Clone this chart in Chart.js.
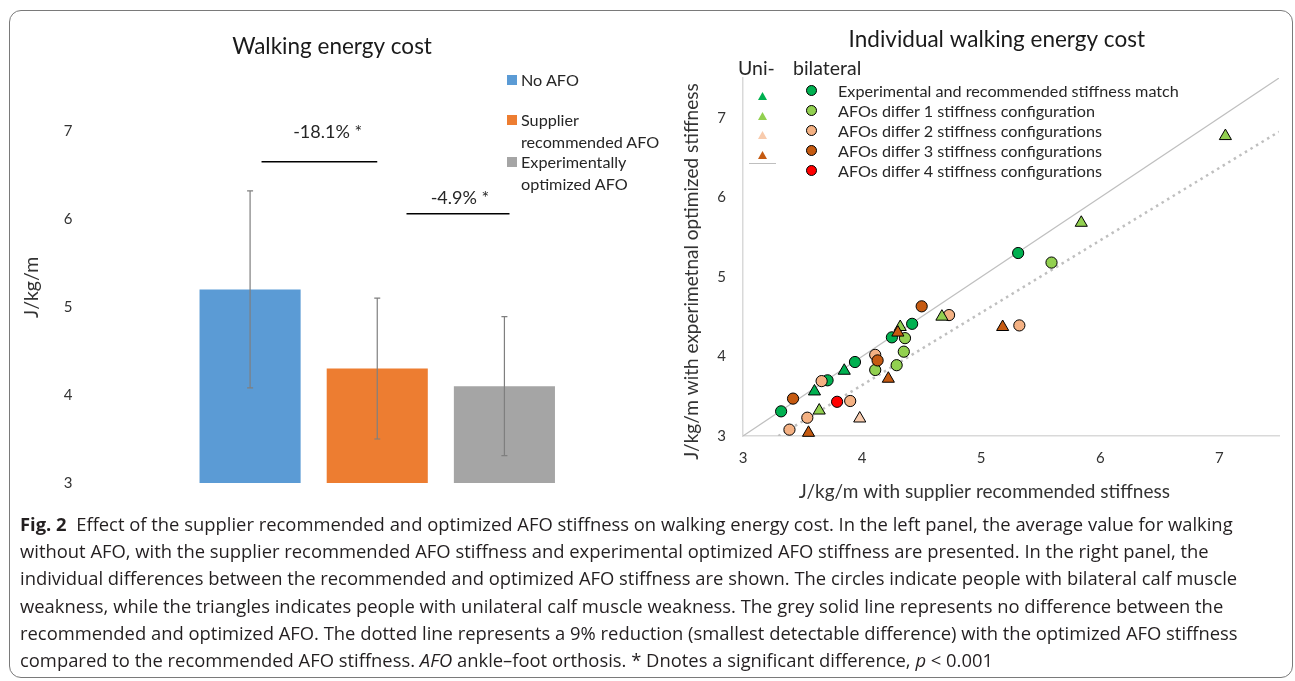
<!DOCTYPE html>
<html>
<head>
<meta charset="utf-8">
<script src="https://cdn.jsdelivr.net/npm/chart.js@4.4.1/dist/chart.umd.min.js"></script>
<style>
  body { margin: 0; width: 1295px; height: 681px; background: #fff; position: relative; overflow: hidden; font-family: Lato, sans-serif; }
  #frame { position: absolute; left: 9px; top: 10px; width: 1284px; height: 668px; border: 1px solid #7a7a7a; border-radius: 12px; box-sizing: border-box; }
  #left-wrap { position: absolute; left: 10px; top: 20px; width: 660px; height: 480px; }
  #right-wrap { position: absolute; left: 680px; top: 20px; width: 610px; height: 500px; }
  .lg { position: absolute; color: #262626; font-size: 16.2px; line-height: 22px; white-space: nowrap; }
  .sq { position: absolute; width: 10px; height: 10px; }
  .tri { position: absolute; width: 9px; height: 8px; clip-path: polygon(50% 0, 100% 100%, 0 100%); }
  .dot { position: absolute; width: 11px; height: 11px; border: 1px solid #000; border-radius: 50%; box-sizing: border-box; }
  #caption { position: absolute; left: 20px; top: 510px; width: 1268px; font-family: 'Open Sans', sans-serif; font-size: 18.4px; line-height: 27.2px; color: #231f20; }
  #caption div { white-space: nowrap; }
</style>
</head>
<body>
<div id="frame"></div>
<div id="left-wrap"><canvas id="left"></canvas></div>
<div id="right-wrap"><canvas id="right"></canvas></div>
<div id="left-legend"></div>
<div id="right-legend"></div>
<div id="caption">
  <div><b>Fig. 2</b>&nbsp; Effect of the supplier recommended and optimized AFO stiffness on walking energy cost. In the left panel, the average value for walking</div>
  <div>without AFO, with the supplier recommended AFO stiffness and experimental optimized AFO stiffness are presented. In the right panel, the</div>
  <div>individual differences between the recommended and optimized AFO stiffness are shown. The circles indicate people with bilateral calf muscle</div>
  <div>weakness, while the triangles indicates people with unilateral calf muscle weakness. The grey solid line represents no difference between the</div>
  <div>recommended and optimized AFO. The dotted line represents a 9% reduction (smallest detectable difference) with the optimized AFO stiffness</div>
  <div>compared to the recommended AFO stiffness. <i>AFO</i> ankle–foot orthosis. * Dnotes a significant difference, <i>p</i> &lt; 0.001</div>
</div>
<script>
// left panel: mean walking energy cost
const barLabels = ['No AFO', 'Supplier recommended AFO', 'Experimentally optimized AFO']
const barLegendLines = [['No AFO'], ['Supplier', 'recommended AFO'], ['Experimentally', 'optimized AFO']]
const barMeans = [5.2, 4.3, 4.1]
const barSD = [1.12, 0.8, 0.79]
const barColors = ['#5B9BD5', '#ED7D31', '#A5A5A5']
const leftTicks = [3, 4, 5, 6, 7]
const sigLabels = ['-18.1% *', '-4.9% *']

// right panel: individual values (x = recommended, y = optimized)
const rightTicks = [3, 4, 5, 6, 7]
const reduction = 0.09
const biMatch = [
  { x: 3.32, y: 3.31 }, { x: 3.71, y: 3.70 }, { x: 3.94, y: 3.93 },
  { x: 4.25, y: 4.24 }, { x: 4.42, y: 4.41 }, { x: 5.31, y: 5.30 },
]
const bi1 = [
  { x: 5.59, y: 5.18 }, { x: 4.36, y: 4.23 }, { x: 4.35, y: 4.06 },
  { x: 4.11, y: 3.83 }, { x: 4.29, y: 3.89 },
]
const bi2 = [
  { x: 4.73, y: 4.52 }, { x: 5.32, y: 4.39 }, { x: 4.11, y: 4.02 },
  { x: 3.66, y: 3.69 }, { x: 3.90, y: 3.44 }, { x: 3.54, y: 3.23 },
  { x: 3.39, y: 3.08 },
]
const bi3 = [{ x: 4.50, y: 4.63 }, { x: 4.13, y: 3.95 }, { x: 3.42, y: 3.47 }]
const bi4 = [{ x: 3.79, y: 3.43 }]
const uniMatch = [{ x: 3.85, y: 3.82 }, { x: 3.60, y: 3.56 }]
const uni1 = [
  { x: 7.05, y: 6.77 }, { x: 5.84, y: 5.68 }, { x: 4.67, y: 4.50 },
  { x: 4.32, y: 4.37 }, { x: 3.64, y: 3.32 },
]
const uni2 = [{ x: 3.98, y: 3.22 }]
const uni3 = [{ x: 4.30, y: 4.30 }, { x: 4.22, y: 3.72 }, { x: 5.18, y: 4.37 }, { x: 3.55, y: 3.04 }]

const groupLabels = [
  'Experimental and recommended stiffness match',
  'AFOs differ 1 stiffness configuration',
  'AFOs differ 2 stiffness configurations',
  'AFOs differ 3 stiffness configurations',
  'AFOs differ 4 stiffness configurations',
]
const groupColors = ['#00B050', '#92D050', '#F4B183', '#C55A11', '#FF0000']
const uniColors = ['#00B050', '#92D050', '#F8CBAD', '#C55A11']

const textColor = '#333333'
const axisColor = '#D9D9D9'
// non-breaking spaces nudge centred titles the way the original layout does
const nb = (n) => '\u00a0'.repeat(n)

// error bars + significance brackets for the bar chart
const barExtras = {
  id: 'barExtras',
  afterDatasetsDraw(chart, args, opts) {
    const { ctx, scales: { x, y } } = chart
    ctx.save()
    ctx.strokeStyle = '#7F7F7F'
    ctx.lineWidth = 1.2
    barMeans.forEach((m, i) => {
      const px = x.getPixelForValue(i)
      const top = y.getPixelForValue(m + barSD[i])
      const bot = y.getPixelForValue(m - barSD[i])
      ctx.beginPath()
      ctx.moveTo(px, top); ctx.lineTo(px, bot)
      ctx.moveTo(px - 3, top); ctx.lineTo(px + 3, top)
      ctx.moveTo(px - 3, bot); ctx.lineTo(px + 3, bot)
      ctx.stroke()
    })
    const step = x.getPixelForValue(1) - x.getPixelForValue(0)
    const p0 = x.getPixelForValue(0)
    ctx.strokeStyle = '#000'
    ctx.lineWidth = 1.5
    ctx.fillStyle = '#262626'
    ctx.font = '18px Lato, sans-serif'
    ctx.textAlign = 'center'
    ctx.textBaseline = 'middle'
    opts.brackets.forEach((b, i) => {
      const yy = y.getPixelForValue(b.y)
      ctx.beginPath()
      ctx.moveTo(p0 + b.from * step, yy)
      ctx.lineTo(p0 + b.to * step, yy)
      ctx.stroke()
      ctx.fillText(sigLabels[i], p0 + b.textX * step, y.getPixelForValue(b.textY))
    })
    ctx.restore()
  },
}

new Chart(document.getElementById('left'), {
  type: 'bar',
  data: {
    labels: barLabels,
    datasets: [{
      data: barMeans,
      backgroundColor: barColors,
      barPercentage: 0.795,
      categoryPercentage: 1,
    }],
  },
  options: {
    responsive: true,
    maintainAspectRatio: false,
    animation: false,
    layout: { padding: { top: 0, right: 102, bottom: 17, left: 0 } },
    scales: {
      x: { display: false },
      y: {
        min: 3,
        max: 7,
        afterFit: (scale) => {
          scale.width = 176.5
          scale.paddingTop = 0
          scale.paddingBottom = 0
        },
        afterBuildTicks: (scale) => { scale.ticks = leftTicks.map((v) => ({ value: v })) },
        grid: { display: false },
        border: { display: false },
        ticks: { color: textColor, padding: 106, font: { family: 'Lato', size: 15 } },
        title: {
          display: true,
          text: nb(8) + 'J/kg/m',
          color: textColor,
          padding: { top: 10, bottom: 0 },
          font: { family: 'Lato', size: 19.5 },
        },
      },
    },
    plugins: {
      legend: { display: false },
      tooltip: { enabled: false },
      title: {
        display: true,
        text: nb(15) + 'Walking energy cost',
        color: '#1a1a1a',
        padding: { top: 13.5, bottom: 70.5 },
        font: { family: 'Lato', size: 22.5, weight: 'normal' },
      },
      barExtras: {
        brackets: [
          { from: 0.09, to: 1.0, y: 6.65, textX: 0.61, textY: 6.99 },
          { from: 1.23, to: 2.04, y: 6.06, textX: 1.65, textY: 6.24 },
        ],
      },
    },
  },
  plugins: [barExtras],
})

// legend for the bar chart
const leftLegend = document.getElementById('left-legend')
const legendRows = [80, 120, 162]
barLegendLines.forEach((lines, i) => {
  const sq = document.createElement('span')
  sq.className = 'sq'
  sq.style.background = barColors[i]
  sq.style.left = '507px'
  sq.style.top = (legendRows[i] - 5) + 'px'
  leftLegend.appendChild(sq)
  const t = document.createElement('div')
  t.className = 'lg'
  t.style.left = '521px'
  t.style.top = (legendRows[i] - 11) + 'px'
  t.innerHTML = lines.join('<br>')
  leftLegend.appendChild(t)
})

function scatterSet(data, color, style, order) {
  return {
    type: 'scatter',
    data,
    backgroundColor: color,
    borderColor: '#000',
    borderWidth: 1,
    pointStyle: style,
    pointRadius: style === 'triangle' ? 7 : 5.6,
    clip: false,
    order,
  }
}

const xMin = 3
const xMax = 7.5
const refLine = [{ x: xMin, y: xMin }, { x: xMax, y: xMax }]
const sddLine = [{ x: xMin / (1 - reduction), y: xMin }, { x: xMax, y: xMax * (1 - reduction) }]

new Chart(document.getElementById('right'), {
  type: 'scatter',
  data: {
    datasets: [
      scatterSet(uni3, uniColors[3], 'triangle', 1),
      scatterSet(uni2, uniColors[2], 'triangle', 2),
      scatterSet(uni1, uniColors[1], 'triangle', 3),
      scatterSet(uniMatch, uniColors[0], 'triangle', 4),
      scatterSet(bi4, groupColors[4], 'circle', 5),
      scatterSet(bi3, groupColors[3], 'circle', 6),
      scatterSet(bi2, groupColors[2], 'circle', 7),
      scatterSet(bi1, groupColors[1], 'circle', 8),
      scatterSet(biMatch, groupColors[0], 'circle', 9),
      {
        type: 'line', data: refLine, borderColor: '#BFBFBF', borderWidth: 1.2,
        pointRadius: 0, order: 10,
      },
      {
        type: 'line', data: sddLine, borderColor: '#BFBFBF', borderWidth: 2.5,
        borderDash: [2.5, 4], borderCapStyle: 'butt', pointRadius: 0, order: 11,
      },
    ],
  },
  options: {
    responsive: true,
    maintainAspectRatio: false,
    animation: false,
    layout: { padding: { top: 0, right: 11, bottom: 14, left: 0 } },
    scales: {
      x: {
        type: 'linear',
        min: xMin,
        max: xMax,
        afterFit: (scale) => { scale.height = 70 },
        afterBuildTicks: (scale) => { scale.ticks = rightTicks.map((v) => ({ value: v })) },
        grid: { display: false },
        border: { display: true, color: axisColor, width: 1.5 },
        ticks: { color: textColor, padding: 5, font: { family: 'Lato', size: 15 } },
        title: {
          display: true,
          text: 'J/kg/m with supplier recommended stiffness' + nb(11),
          color: textColor,
          padding: { top: 0, bottom: 3 },
          font: { family: 'Lato', size: 19 },
        },
      },
      y: {
        type: 'linear',
        min: xMin,
        max: xMax,
        afterFit: (scale) => {
          scale.width = 63
          scale.paddingTop = 0
          scale.paddingBottom = 0
        },
        afterBuildTicks: (scale) => { scale.ticks = rightTicks.map((v) => ({ value: v })) },
        grid: { display: false },
        border: { display: true, color: axisColor, width: 1.5 },
        ticks: { color: textColor, padding: 9, font: { family: 'Lato', size: 15 } },
        title: {
          display: true,
          text: 'J/kg/m with experimetnal optimized stiffness' + nb(6),
          color: textColor,
          padding: { top: 0, bottom: 0 },
          font: { family: 'Lato', size: 19 },
        },
      },
    },
    plugins: {
      legend: { display: false },
      tooltip: { enabled: false },
      title: {
        display: true,
        text: nb(6) + 'Individual walking energy cost',
        color: '#1a1a1a',
        padding: { top: 6.5, bottom: 24.5 },
        font: { family: 'Lato', size: 22.5, weight: 'normal' },
      },
    },
  },
})

// legend for the scatter chart
const rightLegend = document.getElementById('right-legend')
function addText(parent, text, left, cy, size) {
  const t = document.createElement('div')
  t.className = 'lg'
  t.style.left = left + 'px'
  t.style.top = (cy - 11) + 'px'
  if (size) t.style.fontSize = size + 'px'
  t.textContent = text
  parent.appendChild(t)
}
addText(rightLegend, 'Uni-', 738, 68, 19.5)
addText(rightLegend, 'bilateral', 793, 68, 19.5)
const triRows = [96, 116, 135, 155]
uniColors.forEach((c, i) => {
  const s = document.createElement('span')
  s.className = 'tri'
  s.style.background = c
  s.style.left = '758px'
  s.style.top = (triRows[i] - 4) + 'px'
  rightLegend.appendChild(s)
})
const lineMark = document.createElement('span')
lineMark.style.cssText = 'position:absolute;left:749px;top:163px;width:27px;height:1px;background:#BFBFBF'
rightLegend.appendChild(lineMark)
const dotRows = [91, 111, 131, 151, 171]
groupLabels.forEach((label, i) => {
  const d = document.createElement('span')
  d.className = 'dot'
  d.style.background = groupColors[i]
  d.style.left = '806px'
  d.style.top = (dotRows[i] - 6) + 'px'
  rightLegend.appendChild(d)
  addText(rightLegend, label, 838, dotRows[i])
})
</script>
</body>
</html>
